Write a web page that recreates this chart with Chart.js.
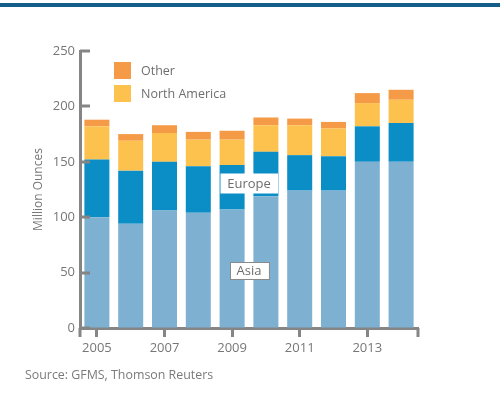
<!DOCTYPE html>
<html><head><meta charset="utf-8">
<script src="https://cdn.jsdelivr.net/npm/chart.js@4"></script>
<style>
html,body{margin:0;padding:0;background:#fff;}
#wrap{position:relative;width:500px;height:396px;overflow:hidden;}
#topbar{position:absolute;left:0;top:3px;width:500px;height:4px;background:#135d8a;}
#src{position:absolute;left:25px;top:366px;font:12.4px "Open Sans";color:#7a7a7a;}
canvas{position:absolute;left:0;top:0;}
</style></head>
<body><div id="wrap"><canvas id="c" width="500" height="396"></canvas><div id="topbar"></div><div id="src">Source: GFMS, Thomson Reuters</div></div>
<script>
const years = ['2005','2006','2007','2008','2009','2010','2011','2012','2013','2014'];
const asia = [100,94,106,104,107,119,124,124,150,150];
const europe = [52,48,44,42,40,40,32,31,32,35];
const northAmerica = [30,27,26,24,23,24,27,25,21,21];
const other = [6,6,7,7,8,7,6,6,9,9];
const yTicks = [0,50,100,150,200,250];
const legendNames = ['Other','North America'];
const inlineLabels = [
  {text:'Europe', at:4.5, value:131, border:false},
  {text:'Asia', at:4.5, value:52, border:true}
];

const AXIS = '#858585';
const FONT = '"Open Sans", "DejaVu Sans", sans-serif';

const decor = {
  id:'decor',
  afterDraw(chart){
    const ctx = chart.ctx, ca = chart.chartArea;
    const xs = chart.scales.x, ys = chart.scales.y;
    ctx.save();
    ctx.strokeStyle = AXIS; ctx.lineWidth = 3;
    yTicks.forEach(v => {
      const y = Math.round(ys.getPixelForValue(v));
      ctx.beginPath(); ctx.moveTo(ca.left, y); ctx.lineTo(ca.left + 10, y); ctx.stroke();
    });
    ctx.beginPath(); ctx.moveTo(ca.left, ca.bottom); ctx.lineTo(ca.left, ca.bottom + 9); ctx.stroke();
    ctx.beginPath(); ctx.moveTo(ca.right, ca.bottom); ctx.lineTo(ca.right, ca.bottom + 9); ctx.stroke();
    ctx.font = '12.5px ' + FONT; ctx.textBaseline = 'middle'; ctx.textAlign = 'left';
    legendNames.forEach((name, i) => {
      const ds = chart.data.datasets.find(d => d.label === name);
      const bx = ca.left + 34, by = ca.top + 11 + i * 23;
      ctx.fillStyle = ds.backgroundColor; ctx.fillRect(bx, by, 17, 17);
      ctx.fillStyle = '#6e6e6e'; ctx.fillText(name, bx + 27, by + 9);
    });
    inlineLabels.forEach(l => {
      const cx = xs.getPixelForValue(l.at), cy = ys.getPixelForValue(l.value);
      ctx.font = '13px ' + FONT;
      const w = ctx.measureText(l.text).width + 14, h = l.border ? 17 : 20;
      const x0 = Math.round(cx - w/2) + 0.5, y0 = Math.round(cy - h/2) + 0.5;
      ctx.fillStyle = '#fff'; ctx.fillRect(x0, y0, w, h);
      if (l.border){ ctx.lineWidth = 1; ctx.strokeStyle = '#8a8a8a'; ctx.strokeRect(x0, y0, w, h); }
      ctx.fillStyle = '#6e6e6e'; ctx.textAlign = 'center';
      ctx.fillText(l.text, cx, cy + 1);
      ctx.textAlign = 'left';
    });
    ctx.restore();
  }
};

new Chart(document.getElementById('c'), {
  type:'bar',
  data:{
    labels: years,
    datasets:[
      {label:'Asia', data:asia, backgroundColor:'#7eb0d2'},
      {label:'Europe', data:europe, backgroundColor:'#0b8dc6'},
      {label:'North America', data:northAmerica, backgroundColor:'#fdc24d'},
      {label:'Other', data:other, backgroundColor:'#f59a46'}
    ]
  },
  options:{
    responsive:false, animation:false,
    layout:{padding:{top:51, right:82, bottom:38, left:0}},
    datasets:{bar:{categoryPercentage:1, barPercentage:0.74}},
    plugins:{legend:{display:false}, tooltip:{enabled:false}},
    scales:{
      x:{
        stacked:true, offset:true,
        grid:{display:true, drawOnChartArea:false, drawTicks:true, offset:false, tickLength:9, tickWidth:3,
              tickColor: c => (c.index % 2 === 0 ? AXIS : 'rgba(0,0,0,0)')},
        border:{display:true, width:3, color:AXIS},
        ticks:{autoSkip:false, maxRotation:0, padding:3, color:'#777', font:{family:FONT, size:13},
               callback:(v,i) => (i % 2 === 0 ? years[i] : '')},
        afterFit: s => { s.height = 30; }
      },
      y:{
        stacked:true, min:0, max:250,
        afterBuildTicks: s => { s.ticks = yTicks.map(v => ({value:v})); },
        grid:{display:true, drawOnChartArea:false, drawTicks:false},
        border:{display:true, width:3, color:AXIS},
        ticks:{padding:5, color:'#777', font:{family:FONT, size:13}},
        title:{display:true, text:'Million Ounces', color:'#777', font:{family:FONT, size:12}, padding:{top:31, bottom:0}},
        afterFit: s => { s.width = 80; }
      }
    }
  },
  plugins:[decor]
});
</script>
</body></html>
